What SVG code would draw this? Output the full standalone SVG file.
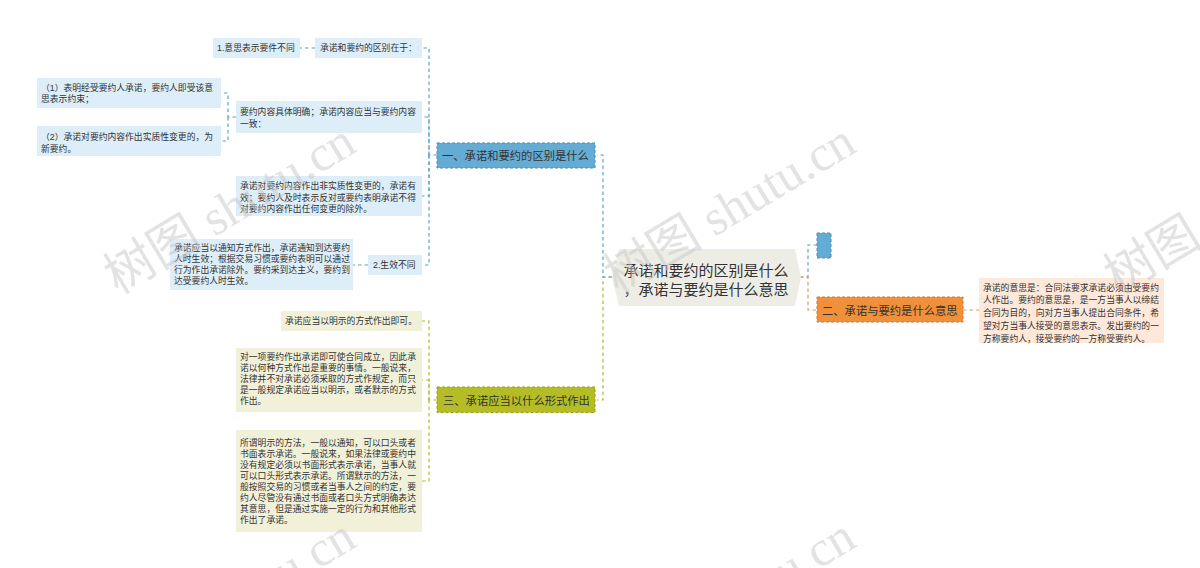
<svg xmlns="http://www.w3.org/2000/svg" width="1200" height="568" viewBox="0 0 1200 568">
<style>
text{font-family:"Liberation Sans","Noto Sans CJK SC",sans-serif;fill:#333}
.lf{font-size:8.8px}
.br{font-size:11.3px}
.ce{font-size:15px;text-anchor:middle}
.lb{fill:#deeef8}
.lo{fill:#f1f1da}
.lp{fill:#fde8da}
.c{fill:none;stroke-width:1.2;stroke-dasharray:3.5 3}
.cb{stroke:#5fa2c9}
.co{stroke:#b3bb2c}
.cr{stroke:#e5955a}
.wm{font-family:"Liberation Serif","Noto Sans CJK SC",serif;font-size:50px;fill:#c8c8c8;opacity:0.5}
</style>
<rect width="1200" height="568" fill="#ffffff"/>
<g id="connectors">
<path class="c co" d="M612,277 H603 V400 H597"/>
<path class="c cb" d="M612,277 H603 V155 H597"/>
<path class="c cb" d="M800,277 H808 V245 H817"/>
<path class="c cr" d="M800,277 H808 V310 H817"/>
<path class="c cr" d="M963,310 H979"/>
<path class="c cb" d="M437,155 H429 V48 H422"/>
<path class="c cb" d="M429,155 V117 H422"/>
<path class="c cb" d="M429,155 V196 H422"/>
<path class="c cb" d="M429,155 V265 H422"/>
<path class="c cb" d="M315,48 H300"/>
<path class="c cb" d="M236,117 H228 V93 H221"/>
<path class="c cb" d="M228,117 V141 H221"/>
<path class="c cb" d="M368,265 H353"/>
<path class="c co" d="M437,400 H429 V321 H422"/>
<path class="c co" d="M429,400 V380 H422"/>
<path class="c co" d="M429,400 V481 H422"/>
</g>
<g id="center">
<polygon points="612,277.5 619,249 795,249 801,277.5 795,306 619,306" fill="#eeede5"/>
<text class="ce" x="706" y="275.5">承诺和要约的区别是什么</text>
<text class="ce" x="706" y="294.5">，承诺与要约是什么意思</text>
</g>
<g id="b1">
<rect x="437" y="143" width="158" height="25" fill="#65acd5" stroke="#4b8dbb" stroke-dasharray="3 2"/>
<text class="br" x="442" y="159.5">一、承诺和要约的区别是什么</text>
</g>
<g id="b3">
<rect x="437" y="387" width="158" height="25.5" fill="#b4bd26" stroke="#97a01a" stroke-dasharray="3 2"/>
<text class="br" x="443" y="405">三、承诺应当以什么形式作出</text>
</g>
<g id="b2">
<rect x="817" y="297" width="146" height="25" fill="#f0903a" stroke="#d5762a" stroke-dasharray="3 2"/>
<text class="br" x="822" y="314.5">二、承诺与要约是什么意思</text>
</g>
<g id="b0">
<rect x="817" y="233" width="14" height="25" fill="#65acd5" stroke="#4b8dbb" stroke-dasharray="3 2"/>
</g>
<g id="n1a">
<rect class="lb" x="315" y="38" width="107" height="20"/>
<text class="lf" x="320" y="51.3">承诺和要约的区别在于：</text>
</g>
<g id="n1a1">
<rect class="lb" x="213" y="38" width="87" height="20"/>
<text class="lf" x="217" y="51.3">1.意思表示要件不同</text>
</g>
<g id="n1b">
<rect class="lb" x="236" y="101" width="186" height="32"/>
<text class="lf" x="240" y="115.2">要约内容具体明确；承诺内容应当与要约内容</text>
<text class="lf" x="240" y="127.2">一致：</text>
</g>
<g id="n1b1">
<rect class="lb" x="37" y="78" width="184" height="30"/>
<text class="lf" x="41" y="90.7">（1）表明经受要约人承诺，要约人即受该意</text>
<text class="lf" x="41" y="102.2">思表示约束；</text>
</g>
<g id="n1b2">
<rect class="lb" x="37" y="126" width="184" height="30"/>
<text class="lf" x="41" y="140.2">（2）承诺对要约内容作出实质性变更的，为</text>
<text class="lf" x="41" y="151.7">新要约。</text>
</g>
<g id="n1c">
<rect class="lb" x="236" y="176" width="186" height="40"/>
<text class="lf" x="240" y="189.2">承诺对要约内容作出非实质性变更的，承诺有</text>
<text class="lf" x="240" y="200.7">效；要约人及时表示反对或要约表明承诺不得</text>
<text class="lf" x="240" y="212.2">对要约内容作出任何变更的除外。</text>
</g>
<g id="n1d">
<rect class="lb" x="368" y="255" width="54" height="20"/>
<text class="lf" x="373" y="268.3">2.生效不同</text>
</g>
<g id="n1d1">
<rect class="lb" x="170" y="239" width="183" height="51"/>
<text class="lf" x="174" y="251">承诺应当以通知方式作出，承诺通知到达要约</text>
<text class="lf" x="174" y="262">人时生效；根据交易习惯或要约表明可以通过</text>
<text class="lf" x="174" y="273">行为作出承诺除外。要约采到达主义，要约到</text>
<text class="lf" x="174" y="284">达受要约人时生效。</text>
</g>
<g id="n3a">
<rect class="lo" x="281" y="311" width="141" height="20"/>
<text class="lf" x="285" y="324.3">承诺应当以明示的方式作出即可。</text>
</g>
<g id="n3b">
<rect class="lo" x="236" y="348" width="186" height="64"/>
<text class="lf" x="240" y="360.2">对一项要约作出承诺即可使合同成立，因此承</text>
<text class="lf" x="240" y="371.2">诺以何种方式作出是重要的事情。一般说来，</text>
<text class="lf" x="240" y="382.2">法律并不对承诺必须采取的方式作规定，而只</text>
<text class="lf" x="240" y="393.2">是一般规定承诺应当以明示，或者默示的方式</text>
<text class="lf" x="240" y="404.2">作出。</text>
</g>
<g id="n3c">
<rect class="lo" x="236" y="430" width="186" height="102"/>
<text class="lf" x="240" y="446.2">所谓明示的方法，一般以通知，可以口头或者</text>
<text class="lf" x="240" y="457.1">书面表示承诺。一般说来，如果法律或要约中</text>
<text class="lf" x="240" y="468">没有规定必须以书面形式表示承诺，当事人就</text>
<text class="lf" x="240" y="478.9">可以口头形式表示承诺。所谓默示的方法，一</text>
<text class="lf" x="240" y="489.8">般按照交易的习惯或者当事人之间的约定，要</text>
<text class="lf" x="240" y="500.7">约人尽管没有通过书面或者口头方式明确表达</text>
<text class="lf" x="240" y="511.6">其意思，但是通过实施一定的行为和其他形式</text>
<text class="lf" x="240" y="522.5">作出了承诺。</text>
</g>
<g id="n2a">
<rect class="lp" x="979" y="278" width="185" height="65"/>
<text class="lf" x="983" y="290.5">承诺的意思是：合同法要求承诺必须由受要约</text>
<text class="lf" x="983" y="303.2">人作出。要约的意思是，是一方当事人以缔结</text>
<text class="lf" x="983" y="316">合同为目的，向对方当事人提出合同条件，希</text>
<text class="lf" x="983" y="328.7">望对方当事人接受的意思表示。发出要约的一</text>
<text class="lf" x="983" y="341.5">方称要约人，接受要约的一方称受要约人。</text>
</g>
<g id="watermarks">
<text class="wm" transform="translate(118,295) rotate(-31)">树图 shutu.cn</text>
<text class="wm" transform="translate(618,295) rotate(-31)">树图 shutu.cn</text>
<text class="wm" transform="translate(1118,295) rotate(-31)">树图 shutu.cn</text>
<text class="wm" transform="translate(118,690) rotate(-31)">树图 shutu.cn</text>
<text class="wm" transform="translate(618,690) rotate(-31)">树图 shutu.cn</text>
</g>
</svg>
